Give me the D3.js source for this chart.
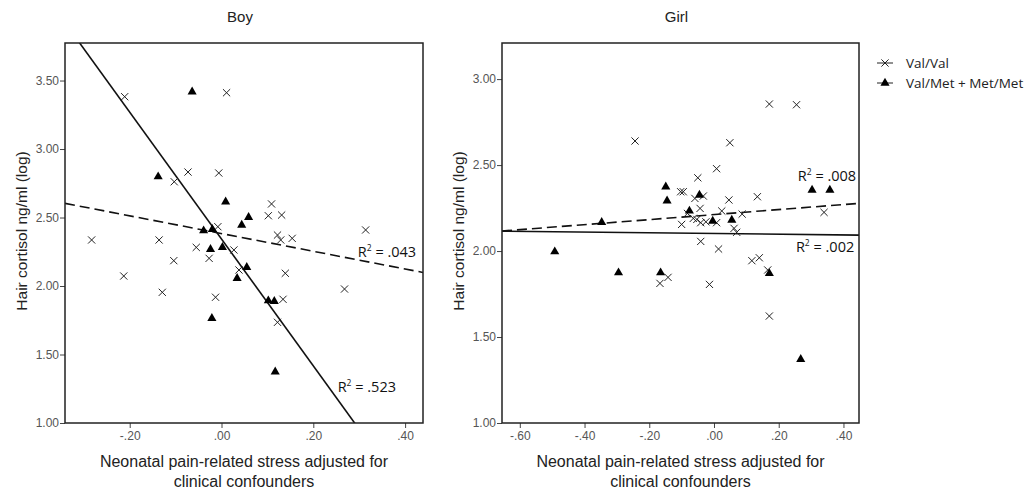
<meta charset="utf-8">
<script src="https://d3js.org/d3.v7.min.js"></script>
<style>
  body { margin: 0; background: #fff; }
</style>
<div id="chart"></div>
<script>

    // Boy, Val/Val (crosses)
    let boyValX = [-0.211, 0.011, -0.103, -0.073, -0.006, 0.109, 0.102, 0.131, -0.008, 0.314,
                   -0.283, -0.136, 0.122, 0.129, 0.154, -0.055, 0.027, -0.027, -0.104, 0.038,
                   -0.213, 0.139, 0.268, -0.129, -0.013, 0.134, 0.122];
    let boyValY = [3.382, 3.411, 2.761, 2.832, 2.825, 2.599, 2.513, 2.518, 2.433, 2.409,
                   2.336, 2.336, 2.372, 2.336, 2.348, 2.282, 2.263, 2.202, 2.185, 2.117,
                   2.073, 2.093, 1.978, 1.954, 1.918, 1.903, 1.735];
    // Boy, Val/Met + Met/Met (triangles)
    let boyMetX = [-0.064, -0.138, 0.009, 0.059, 0.044, -0.039, -0.020, -0.024, 0.002, 0.055,
                   0.034, 0.102, 0.115, -0.021, 0.117];
    let boyMetY = [3.418, 2.798, 2.615, 2.501, 2.445, 2.404, 2.414, 2.268, 2.282, 2.136,
                   2.056, 1.893, 1.888, 1.764, 1.374];

    // Girl, Val/Val
    let girlValX = [-0.244, 0.171, 0.255, 0.049, 0.008, -0.050, -0.103, -0.095, -0.033, -0.059,
                    0.046, 0.134, -0.043, -0.082, 0.024, 0.087, 0.340, -0.064, -0.053, -0.025,
                    0.008, -0.041, -0.100, 0.062, 0.070, -0.041, 0.014, 0.117, 0.140, 0.166,
                    -0.167, -0.142, -0.014, 0.171];
    let girlValY = [2.640, 2.855, 2.851, 2.630, 2.479, 2.426, 2.345, 2.345, 2.320, 2.306,
                    2.297, 2.316, 2.248, 2.219, 2.233, 2.215, 2.225, 2.190, 2.184, 2.170,
                    2.165, 2.165, 2.155, 2.132, 2.109, 2.056, 2.012, 1.944, 1.961, 1.890,
                    1.812, 1.847, 1.806, 1.622];
    // Girl, Val/Met + Met/Met
    let girlMetX = [-0.149, 0.303, 0.358, -0.045, -0.145, -0.076, -0.004, 0.055, -0.347, -0.492,
                    0.171, -0.295, -0.165, 0.268];
    let girlMetY = [2.374, 2.355, 2.355, 2.326, 2.292, 2.233, 2.174, 2.180, 2.167, 1.996,
                    1.870, 1.874, 1.874, 1.370];

    // fit lines [intercept, slope] and R2 labels
    let boyValFit = [2.383, -0.647], boyMetFit = [2.343, -4.63];
    let girlValFit = [2.212, 0.146], girlMetFit = [2.102, -0.021];
    let boyR2 = [".043", ".523"], girlR2 = [".008", ".002"];

    let boyXTicks = [-0.2, 0, 0.2, 0.4], boyYTicks = [1, 1.5, 2, 2.5, 3, 3.5];
    let girlXTicks = [-0.6, -0.4, -0.2, 0, 0.2, 0.4], girlYTicks = [1, 1.5, 2, 2.5, 3];

    let legendLabels = ["Val/Val", "Val/Met + Met/Met"];

    let W = 1032, H = 494;

    var svg = d3.select("#chart")
        .append("svg")
            .attr("width", W)
            .attr("height", H)
            .style("font-family", "Arial, 'Liberation Sans', sans-serif");

    // strip leading zero like SPSS: -0.20 -> -.20 (plain hyphen)
    let fmt = function(v) {
        return d3.format(".2f")(v).replace("\u2212", "-").replace(/^(-?)0\./, "$1.");
    };

    let crossPath = "M-3.6,-3.6L3.6,3.6M-3.6,3.6L3.6,-3.6";
    let tri = d3.symbol().type(d3.symbolTriangle).size(36);

    function panel(o) {
        let x = d3.scaleLinear().domain(o.xDomain).range([o.left, o.right]);
        let y = d3.scaleLinear().domain(o.yDomain).range([423, 43]);
        let g = svg.append("g");

        g.append("text")
            .attr("x", (o.left + o.right) / 2 - 4)
            .attr("y", 22)
            .attr("text-anchor", "middle")
            .style("font-size", "15px")
            .attr("fill", "#222")
            .text(o.title);

        // axes
        let yAx = g.append("g")
            .attr("transform", "translate(" + o.left + ",0)")
            .call(d3.axisLeft(y).tickValues(o.yTicks).tickFormat(fmt).tickSize(5).tickPadding(1));
        let xAx = g.append("g")
            .attr("transform", "translate(0,423)")
            .call(d3.axisBottom(x).tickValues(o.xTicks).tickFormat(fmt).tickSize(5).tickPadding(3));
        [yAx, xAx].forEach(function(a) {
            a.select(".domain").remove();
            a.selectAll("text").style("font-size", "12px").attr("fill", "#555")
                .style("font-family", "Arial, 'Liberation Sans', sans-serif");
            a.selectAll(".tick line").attr("stroke", "#444");
        });

        // clip for the fit lines
        let clipId = "clip-" + o.title;
        g.append("clipPath").attr("id", clipId)
            .append("rect")
            .attr("x", o.left).attr("y", 43)
            .attr("width", o.right - o.left).attr("height", 380);

        function fitLine(fit, dash) {
            g.append("path")
                .attr("clip-path", "url(#" + clipId + ")")
                .attr("d", d3.line()
                    .x(function(d) { return x(d); })
                    .y(function(d) { return y(fit[0] + fit[1] * d); })(o.xDomain))
                .attr("fill", "none")
                .attr("stroke", "#111")
                .attr("stroke-width", 1.6)
                .attr("stroke-dasharray", dash);
        }
        fitLine(o.valFit, "10,5");
        fitLine(o.metFit, null);

        // points
        g.selectAll(".cross")
            .data(d3.zip(o.valX, o.valY))
            .enter()
            .append("path")
            .attr("transform", function(d) { return "translate(" + x(d[0]) + "," + y(d[1]) + ")"; })
            .attr("d", crossPath)
            .attr("stroke", "#222")
            .attr("stroke-width", 1);

        g.selectAll(".tri")
            .data(d3.zip(o.metX, o.metY))
            .enter()
            .append("path")
            .attr("transform", function(d) { return "translate(" + x(d[0]) + "," + y(d[1]) + ")"; })
            .attr("d", tri)
            .attr("fill", "#000");

        // R2 labels
        o.r2.forEach(function(r) {
            let t = g.append("text")
                .attr("x", x(r.x))
                .attr("y", y(r.y))
                .style("font-family", "'Open Sans', sans-serif")
                .style("font-size", "14.5px")
                .attr("fill", "#111");
            t.append("tspan").text("R");
            t.append("tspan").text("2").attr("dy", -6).style("font-size", "8.5px");
            t.append("tspan").text(" = " + r.label).attr("dy", 6);
        });

        // frame
        g.append("rect")
            .attr("x", o.left).attr("y", 43)
            .attr("width", o.right - o.left).attr("height", 380)
            .attr("fill", "none")
            .attr("stroke", "#222")
            .attr("stroke-width", 1.5);

        // axis titles
        let xt = g.append("text")
            .attr("text-anchor", "middle")
            .style("font-size", "16px")
            .attr("fill", "#222");
        xt.append("tspan").attr("x", (o.left + o.right) / 2).attr("y", 467)
            .text("Neonatal pain-related stress adjusted for");
        xt.append("tspan").attr("x", (o.left + o.right) / 2).attr("y", 487)
            .text("clinical confounders");

        g.append("text")
            .attr("text-anchor", "middle")
            .attr("transform", "translate(" + (o.left - 38) + ",231) rotate(-90)")
            .style("font-size", "15.5px")
            .attr("fill", "#222")
            .text("Hair cortisol ng/ml (log)");
    }

    panel({
        title: "Boy", left: 65, right: 423,
        xDomain: [-0.341, 0.439], yDomain: [1, 3.774],
        xTicks: boyXTicks, yTicks: boyYTicks,
        valX: boyValX, valY: boyValY, metX: boyMetX, metY: boyMetY,
        valFit: boyValFit, metFit: boyMetFit,
        r2: [{label: boyR2[0], x: 0.297, y: 2.212}, {label: boyR2[1], x: 0.253, y: 1.226}]
    });

    panel({
        title: "Girl", left: 502, right: 859,
        xDomain: [-0.655, 0.448], yDomain: [1, 3.21],
        xTicks: girlXTicks, yTicks: girlYTicks,
        valX: girlValX, valY: girlValY, metX: girlMetX, metY: girlMetY,
        valFit: girlValFit, metFit: girlMetFit,
        r2: [{label: girlR2[0], x: 0.259, y: 2.407}, {label: girlR2[1], x: 0.253, y: 1.994}]
    });

    // legend
    let leg = svg.append("g").attr("transform", "translate(877,0)");
    legendLabels.forEach(function(lab, i) {
        let cy = 63 + i * 20;
        leg.append("line")
            .attr("x1", 0).attr("x2", 16).attr("y1", cy).attr("y2", cy)
            .attr("stroke", "#222").attr("stroke-width", 1);
        if (i == 0) {
            leg.append("path")
                .attr("transform", "translate(8," + cy + ")")
                .attr("d", crossPath)
                .attr("stroke", "#222");
        } else {
            leg.append("path")
                .attr("transform", "translate(8," + cy + ")")
                .attr("d", tri)
                .attr("fill", "#000");
        }
        leg.append("text")
            .attr("x", 29).attr("y", cy + 5)
            .style("font-family", "'Open Sans', sans-serif")
            .style("font-size", "13.5px")
            .attr("fill", "#222")
            .text(lab);
    });
</script>
